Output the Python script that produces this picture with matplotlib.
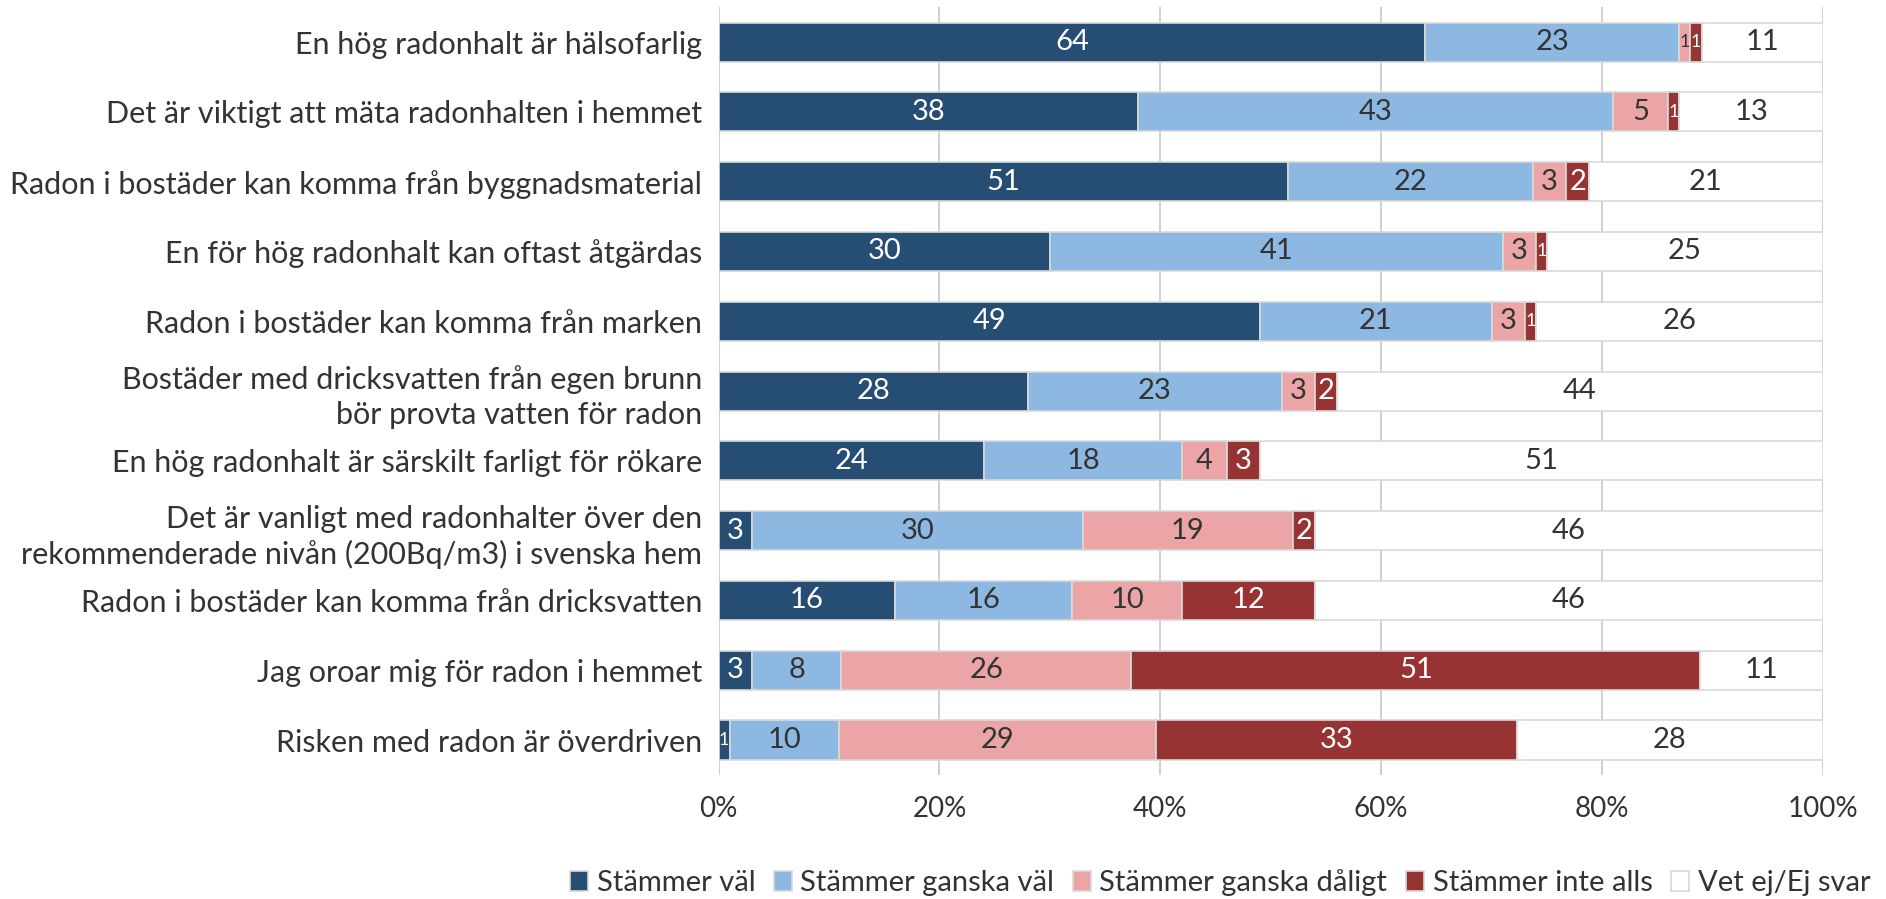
import numpy as np
import matplotlib
matplotlib.use("Agg")
import matplotlib.pyplot as plt

plt.rcParams['font.family'] = ['Lato', 'DejaVu Sans']

statements = [
    "En hög radonhalt är hälsofarlig",
    "Det är viktigt att mäta radonhalten i hemmet",
    "Radon i bostäder kan komma från byggnadsmaterial",
    "En för hög radonhalt kan oftast åtgärdas",
    "Radon i bostäder kan komma från marken",
    "Bostäder med dricksvatten från egen brunn\nbör provta vatten för radon",
    "En hög radonhalt är särskilt farligt för rökare",
    "Det är vanligt med radonhalter över den\nrekommenderade nivån (200Bq/m3) i svenska hem",
    "Radon i bostäder kan komma från dricksvatten",
    "Jag oroar mig för radon i hemmet",
    "Risken med radon är överdriven",
]
series = ["Stämmer väl", "Stämmer ganska väl", "Stämmer ganska dåligt",
          "Stämmer inte alls", "Vet ej/Ej svar"]

stammer_val = [64, 38, 51, 30, 49, 28, 24, 3, 16, 3, 1]
ganska_val = [23, 43, 22, 41, 21, 23, 18, 30, 16, 8, 10]
ganska_daligt = [1, 5, 3, 3, 3, 3, 4, 19, 10, 26, 29]
inte_alls = [1, 1, 2, 1, 1, 2, 3, 2, 12, 51, 33]
vet_ej = [11, 13, 21, 25, 26, 44, 51, 46, 46, 11, 28]

colors = ["#264D73", "#8DB8E2", "#EBA5A6", "#973333", "#FFFFFF"]
dark = "#333333"
text_colors = ["white", dark, dark, "white", dark]

data = np.array([stammer_val, ganska_val, ganska_daligt, inte_alls, vet_ej], dtype=float)
shares = data / data.sum(axis=0) * 100  # 100% stacked

fig = plt.figure(figsize=(18.86, 8.99), dpi=100)
ax = fig.add_axes([0.381, 0.138, 0.5856, 0.854])

y = np.arange(len(statements))
left = np.zeros(len(statements))
for i, name in enumerate(series):
    bars = ax.barh(y, shares[i], left=left, height=0.56, color=colors[i],
                   edgecolor="#D9D9D9", linewidth=1.2, label=name, zorder=3)
    for j, b in enumerate(bars):
        cx = left[j] + shares[i][j] / 2
        # thin segments get a smaller number so neighbours don't collide
        fs = 21 if shares[i][j] >= 1.5 else 13
        ax.text(cx, y[j], f"{int(data[i][j])}", ha="center", va="center",
                color=text_colors[i], fontsize=fs, zorder=4)
    left += shares[i]

ax.set_ylim(len(statements) - 0.5, -0.5)
ax.set_xlim(0, 100)
ax.set_yticks(y)
ax.set_yticklabels(statements, fontsize=22, color=dark, linespacing=1.3)
ax.set_xticks(np.arange(0, 101, 20))
ax.set_xticklabels([f"{v}%" for v in range(0, 101, 20)], fontsize=20, color=dark)
ax.tick_params(axis="y", length=0, pad=12)
ax.tick_params(axis="x", length=0, pad=15)
ax.xaxis.grid(True, color="#C8C8C8", linewidth=1.2, zorder=0)
for s in ax.spines.values():
    s.set_visible(False)

fig.legend(loc="center", bbox_to_anchor=(0.647, 0.018), ncol=5, frameon=False,
           fontsize=21, handlelength=0.6, handleheight=0.7, handletextpad=0.3,
           columnspacing=0.65, labelcolor=dark)

fig.savefig("out.png", dpi=100)
